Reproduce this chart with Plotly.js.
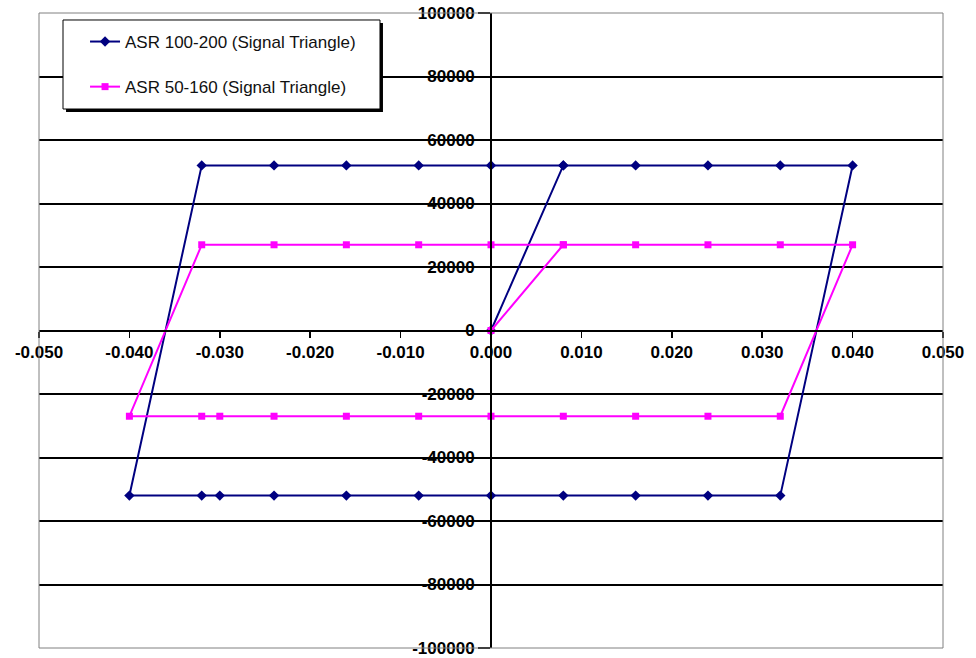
<!DOCTYPE html>
<html>
<head>
<meta charset="utf-8">
<script src="https://cdn.plot.ly/plotly-3.0.1.min.js"></script>
<style>
  html, body { margin: 0; padding: 0; background: #ffffff; }
  #chart { width: 976px; height: 658px; }
</style>
</head>
<body>
<div id="chart"></div>
<script>
// ---- data ----
const seriesNames = ["ASR 100-200 (Signal Triangle)", "ASR 50-160 (Signal Triangle)"];
const strainX = [0, 0.008, 0.016, 0.024, 0.032, 0.040,
                 0.032, 0.024, 0.016, 0.008, 0.000, -0.008, -0.016, -0.024, -0.030, -0.032, -0.040,
                 -0.032, -0.024, -0.016, -0.008, 0.000, 0.008];
const forceAsr100 = [0, 52000, 52000, 52000, 52000, 52000,
                     -52000, -52000, -52000, -52000, -52000, -52000, -52000, -52000, -52000, -52000, -52000,
                     52000, 52000, 52000, 52000, 52000, 52000];
const forceAsr50 = [0, 27000, 27000, 27000, 27000, 27000,
                    -27000, -27000, -27000, -27000, -27000, -27000, -27000, -27000, -27000, -27000, -27000,
                    27000, 27000, 27000, 27000, 27000, 27000];
const xTickVals = [-0.05, -0.04, -0.03, -0.02, -0.01, 0, 0.01, 0.02, 0.03, 0.04, 0.05];
const xTickText = ["-0.050", "-0.040", "-0.030", "-0.020", "-0.010", "0.000", "0.010", "0.020", "0.030", "0.040", "0.050"];
const yTickVals = [100000, 80000, 60000, 40000, 20000, 0, -20000, -40000, -60000, -80000, -100000];
const yTickText = ["100000", "80000", "60000", "40000", "20000", "0", "-20000", "-40000", "-60000", "-80000", "-100000"];
const yGridVals = [80000, 60000, 40000, 20000, 0, -20000, -40000, -60000, -80000];

// ---- chart ----
const FONT = "'Liberation Sans', Arial, sans-serif";

const traces = [
  {
    x: strainX, y: forceAsr100, name: seriesNames[0], type: "scatter", mode: "lines+markers",
    line: { color: "#000080", width: 2 },
    marker: { symbol: "diamond", size: 8, color: "#000080" },
    legendgroup: "a", yaxis: "y"
  },
  {
    x: strainX, y: forceAsr50, name: seriesNames[1], type: "scatter", mode: "lines+markers",
    line: { color: "#FF00FF", width: 2 },
    marker: { symbol: "square", size: 7, color: "#FF00FF" },
    legendgroup: "b", yaxis: "y2"
  }
];

const layout = {
  width: 976, height: 658,
  margin: { l: 39, r: 33, t: 13, b: 10, pad: 0 },
  paper_bgcolor: "#ffffff", plot_bgcolor: "#ffffff",
  font: { family: FONT, size: 17, color: "#000000" },
  showlegend: true,
  legend: {
    x: 0.0288, y: 0.9827, xanchor: "left", yanchor: "top",
    bgcolor: "rgba(0,0,0,0)", borderwidth: 0,
    font: { family: FONT, size: 17, color: "#111111" },
    traceorder: "grouped", tracegroupgap: 20, indentation: 20,
    entrywidth: 300
  },
  xaxis: {
    range: [-0.05, 0.05], anchor: "free", position: 0.5,
    tickvals: xTickVals, ticktext: xTickText,
    ticks: "outside", ticklen: 6, tickwidth: 1.5, tickcolor: "#000000",
    showline: true, linecolor: "#000000", linewidth: 2,
    showgrid: false, zeroline: false, automargin: false,
    tickfont: { family: FONT, size: 17, color: "#000000", weight: "bold" }
  },
  yaxis: {
    range: [-100000, 100000], anchor: "free", position: 0.5,
    tickvals: yTickVals, ticktext: yTickText,
    ticks: "outside", ticklen: 12, tickwidth: 1.5, tickcolor: "#000000",
    showline: true, linecolor: "#000000", linewidth: 2,
    showgrid: false, zeroline: false, automargin: false,
    tickfont: { family: FONT, size: 17, color: "#000000", weight: "bold" }
  },
  yaxis2: {
    range: [-100000, 100000], overlaying: "y", anchor: "x", side: "left",
    tickvals: yGridVals, showticklabels: false, ticks: "",
    showgrid: true, gridcolor: "#000000", gridwidth: 2,
    showline: false, zeroline: false, automargin: false
  },
  shapes: [
    // plot-area border
    { type: "rect", xref: "paper", yref: "paper", x0: 0, x1: 1, y0: 0, y1: 1,
      line: { color: "#808080", width: 1 }, layer: "above" },
    // legend box shadow
    { type: "rect", xref: "paper", yref: "paper", x0: 0.0299, x1: 0.3805, y0: 0.8441, y1: 0.9843,
      fillcolor: "#000000", line: { width: 0 }, layer: "above" },
    // legend box
    { type: "rect", xref: "paper", yref: "paper", x0: 0.02655, x1: 0.3772, y0: 0.8488, y1: 0.98898,
      fillcolor: "#ffffff", line: { color: "#000000", width: 1 }, layer: "above" }
  ]
};

Plotly.newPlot("chart", traces, layout, { displayModeBar: false, staticPlot: true });
</script>
</body>
</html>
